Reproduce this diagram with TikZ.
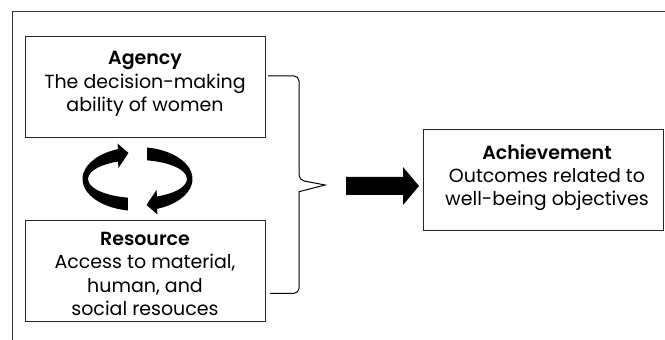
\documentclass[tikz,border=0pt]{standalone}
\usepackage{fontspec}
\setmainfont{Poppins}[BoldFont={Poppins SemiBold}]
\usetikzlibrary{calc}
\tikzset{
  box/.style={draw=black!85, line width=0.8pt, minimum width=240pt, minimum height=101pt, inner sep=0pt},
  txt/.style={align=center, inner sep=0pt, font=\fontsize{19}{23.3}\selectfont},
  frameline/.style={draw=black!80, line width=0.9pt},
  braceline/.style={draw=black, line width=1pt, rounded corners=5pt},
}
\begin{document}
\begin{tikzpicture}[x=1pt,y=1pt]
\useasboundingbox (0,0) rectangle (665,340);
% outer frame (top and left only)
\draw[frameline] (665,329) -- (12.5,329) -- (12.5,0);
% boxes
\node[box] (agency) at (145,253.5) {};
\node[box] (resource) at (145,69) {};
\node[box] (achieve) at (543,160.5) {};
\node[txt] (agencyT) at (145,256) {\textbf{Agency}\\The decision-making\\ability of women};
\node[txt] (resourceT) at (145,66) {\textbf{Resource}\\Access to material,\\human, and\\social resouces};
\node[txt] (achieveT) at (547,162.5) {\textbf{Achievement}\\Outcomes related to\\well-being objectives};
% brace
\coordinate (bt) at (268,264);
\coordinate (bb) at (270,46.7);
\coordinate (bp) at (325,155);
\draw[braceline] (bt) -- (299,264) -- (299,160) [sharp corners] -- (bp) -- (299,148.3) [rounded corners=5pt] -- (299,46.7) -- (bb);
% block arrow
\fill[black] (346,163) -- (403,163) -- (403,173) -- (419,154) -- (403,135) -- (403,145) -- (346,145) -- cycle;
% cycle arrows
\def\cyclearrow{%
  (137.5,161) ++(-99.95:55 and 32) arc[start angle=-99.95, end angle=-249.23, x radius=55, y radius=32]
  -- (117.5,196.5) -- (128.5,187) -- (118.5,172)
  -- ($(137.5,161)+(-246.8:49.5 and 19)$) arc[start angle=-246.8, end angle=-101.07, x radius=49.5, y radius=19] -- cycle}
\fill[black] \cyclearrow;
\fill[black, rotate around={180:(137.5,161)}] \cyclearrow;
\end{tikzpicture}
\end{document}
